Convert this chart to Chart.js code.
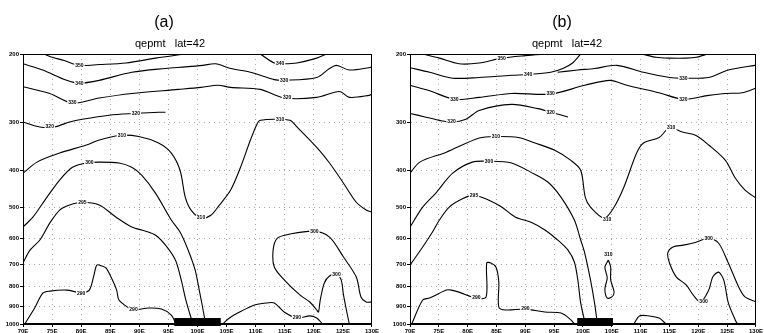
<!DOCTYPE html>
<html><head><meta charset="utf-8">
<script src="https://cdn.jsdelivr.net/npm/chart.js@4.4.1/dist/chart.umd.min.js"></script>
<style>
html,body{margin:0;padding:0;background:#fff;width:764px;height:333px;overflow:hidden;}
#wrap{position:relative;width:764px;height:333px;}
canvas{position:absolute;top:0;}
.t1{position:absolute;font-family:"Liberation Sans",Arial,sans-serif;font-size:16px;color:#000;transform:translateX(-50%);white-space:pre;line-height:18px;}
.t2{position:absolute;font-family:"Liberation Sans",Arial,sans-serif;font-size:11px;color:#000;transform:translateX(-50%);white-space:pre;line-height:13px;}
</style></head><body>
<div id="wrap">
<canvas id="ca" width="380" height="333" style="left:0"></canvas>
<canvas id="cb" width="384" height="333" style="left:380px"></canvas>
<div class="t1" style="left:164px;top:13px">(a)</div>
<div class="t2" style="left:170px;top:37px">qepmt   lat=42</div>
<div class="t1" style="left:562px;top:13px">(b)</div>
<div class="t2" style="left:567px;top:37px">qepmt   lat=42</div>
</div>
<script>
// ---- axes ----
const xTicks = [70,75,80,85,90,95,100,105,110,115,120,125,130];
const yTicks = [200,300,400,500,600,700,800,900,1000];

// ---- panel (a) contours: [longitude (E), pressure (hPa)] ----
const a350 = [[73.6,200],[74.6,203],[77.1,208],[79.7,214],[83.1,213],[87.7,211],[92.8,205],[97.9,200]];
const a340 = [[110.8,200],[113.2,211],[114.9,212],[117.1,211],[120.5,205],[122.2,200]];
const aL2 = [[70,212],[73.4,220],[77.5,234],[79.7,238],[83.1,234],[88.7,223],[94.5,218],[97.9,216],[100.9,214],[103.1,212],[105.7,218],[109.1,223],[113.2,233],[114.9,234],[120.5,230],[122.7,218],[123.9,214],[126.1,220],[129.5,217],[130,216]];
const aL3 = [[70,243],[74.6,253],[78.5,268],[83.1,260],[88.7,253],[96.7,247],[100.6,244],[103.5,241],[105.7,244],[110.8,247],[114.9,260],[120.5,259],[124.4,250],[126.1,259],[129.5,256],[130,254]];
const a320 = [[70,300],[72.9,309],[75.4,309],[78,300],[80.2,295],[84.8,288],[89.4,285],[93.3,283],[94.5,283]];
const a310 = [[70,407],[72.4,381],[76.3,361],[80.9,344],[83.1,334],[86.5,325],[89.9,327],[93.3,340],[95.5,361],[97,400],[97.9,470],[98.9,507],[100.6,532],[102.3,523],[103.5,498],[105.7,450],[107.4,393],[109.1,334],[110.3,302],[110.8,297],[113.2,295],[115.9,297],[117.1,309],[120.5,349],[122.7,383],[125.1,432],[127.3,484],[129,507],[130,513]];
const a300 = [[70,561],[71.7,529],[74.1,470],[76.3,424],[78.5,393],[80.9,383],[83.1,381],[86.5,383],[88.7,393],[90.4,412],[92.8,459],[95.5,538],[97,578],[98.4,644],[99.6,725],[100.3,817],[100.8,893],[101.4,1000]];
const a295 = [[70,695],[71.2,644],[72.9,606],[74.6,548],[76.3,507],[78,492],[80.2,484],[83.1,492],[86,529],[88.7,561],[91.1,575],[92.8,589],[94.5,625],[96.2,683],[97.2,769],[98,867],[99.2,1000]];
const a290 = [[70.3,1000],[72,909],[73.4,832],[74.6,822],[77.5,817],[79.2,827],[80,832],[81.4,817],[82.2,747],[82.7,704],[83.6,708],[84.3,717],[85.3,765],[86.1,817],[86.5,867],[88.2,909],[89,920],[91.6,909],[93.8,915],[95.5,948],[96.3,1000]];
const a300r = [[130,877],[129,877],[128.1,851],[127.3,756],[125.1,671],[122.7,596],[120.1,575],[115.9,585],[113.7,600],[113,644],[113.2,712],[114.9,769],[117.6,841],[119.3,877],[120.5,920],[120.8,931],[121.1,867],[121.8,783],[122.7,751],[123.9,743],[124.7,769],[125.1,841],[125.6,920],[126.1,1000]];
const a290r = [[104.3,1000],[105.5,965],[106.9,937],[109.8,893],[112,882],[113.2,882],[114.9,931],[117.1,965],[119.3,953],[120.5,965],[121.5,1000]];
const aLabels = [[79.7,214,'350'],[114.2,212,'340'],[79.7,238,'340'],[114.9,234,'330'],[78.5,268,'330'],[115.4,260,'320'],[74.6,309,'320'],[89.4,285,'320'],[87,325,'310'],[100.6,532,'310'],[114.2,295,'310'],[81.4,383,'300'],[80.2,484,'295'],[80,832,'290'],[89,920,'290'],[120.1,575,'300'],[123.9,743,'300'],[117.1,965,'290']];
const aTerrain = [96,104,965];

// ---- panel (b) contours ----
const b350 = [[72.2,200],[75.1,205],[78.5,212],[82,211],[85.9,205],[90,202],[93.9,200]];
const b340 = [[110.2,200],[112.7,204],[115,205],[117.9,205],[119.6,204],[121.6,200]];
const bL2a = [[70,217],[73.4,223],[77.4,231],[82,230],[87.6,227],[90.5,226],[94.4,223],[96.5,218],[98.2,211],[99.6,200]];
const bL2b = [[95.6,223],[99.1,220],[102,218],[105.9,214],[110.5,223],[115,230],[117.4,231],[121.8,230],[125.2,220],[129.8,214],[130,214]];
const bL3 = [[70,241],[73.4,249],[77.7,262],[82,259],[87.6,253],[94.4,254],[100.3,241],[104.7,234],[107.6,241],[113.2,252],[117.4,262],[121.8,256],[124.7,253],[127.6,252],[130,245]];
const b320 = [[70,285],[72.6,291],[75.1,297],[77.2,300],[79.7,295],[82,280],[87.6,270],[92.2,277],[94.4,283],[97.4,291]];
const b310 = [[70,407],[71.7,381],[76.3,359],[82,330],[84.9,327],[88.8,329],[91.7,340],[95.1,355],[97.9,377],[99.6,400],[100.4,470],[101.3,498],[103.7,532],[105.4,498],[107.1,442],[109.3,361],[110.5,340],[113.2,329],[115,311],[117.4,319],[119.6,325],[121.8,344],[124.7,377],[126.4,419],[128.1,450],[130,472]];
const b300 = [[70,561],[72.2,498],[74.6,456],[77.4,407],[80.8,381],[83.7,379],[87.6,383],[91,405],[93.9,429],[96.2,470],[98.5,538],[99.6,606],[100.3,655],[101.3,769],[102,882],[102.5,1000]];
const b295 = [[70,704],[72.2,632],[73.9,578],[75.1,538],[76.8,498],[79.1,474],[81.1,464],[83.7,478],[85.9,498],[88.3,529],[91,545],[93.4,571],[95.6,606],[97.4,644],[98.5,691],[99.1,769],[99.6,882],[100.4,1000]];
const b290 = [[70.3,1000],[72.2,867],[73.4,857],[76.3,817],[77.2,817],[78.5,827],[81.5,857],[83.2,851],[83.3,695],[84,695],[84.9,712],[85.4,779],[85.4,904],[86.6,920],[90,915],[93.4,931],[96.2,937],[97.9,976],[98.5,1000]];
const b310loop = [[104.4,683],[103.8,712],[104.2,760],[103.8,812],[104.2,857],[105,851],[105.4,827],[104.8,769],[104.8,712],[104.4,683]];
const b290bump = [[108.8,1000],[109.8,953],[111.5,953],[113.2,965],[114.4,1000]];
const b300r = [[130,877],[128.1,851],[127,802],[125.2,695],[123.5,617],[121.8,600],[119.6,614],[117.4,625],[115.6,632],[114.7,655],[115,695],[116.2,756],[117.9,792],[119.1,841],[120.4,877],[121.8,817],[122.5,756],[123.5,734],[124.4,769],[125.2,882],[126.4,976],[126.8,1000]];
const bLabels = [[85.9,205,'350'],[90.5,226,'340'],[117.4,231,'330'],[77.7,262,'330'],[94.4,254,'330'],[117.4,262,'320'],[77.2,300,'320'],[94.4,283,'320'],[84.9,327,'310'],[104.2,538,'310'],[115.3,311,'310'],[83.7,379,'300'],[81.1,464,'295'],[81.5,857,'290'],[90,915,'290'],[104.4,663,'310'],[121.8,600,'300'],[120.9,877,'300']];
const bTerrain = [99,105.2,965];

const contoursA = [a350,a340,aL2,aL3,a320,a310,a300,a295,a290,a300r,a290r];
const contoursB = [b350,b340,bL2a,bL2b,bL3,b320,b310,b300,b295,b290,b310loop,b290bump,b300r];

const extras = {
  id:'extras',
  afterDatasetsDraw(chart, args, o){
    const {ctx, chartArea:ca, scales:{x,y}} = chart;
    ctx.save();
    const x0 = x.getPixelForValue(o.terrain[0]), x1 = x.getPixelForValue(o.terrain[1]);
    const yt = y.getPixelForValue(o.terrain[2]);
    ctx.fillStyle = '#000';
    ctx.fillRect(x0, yt, x1-x0, ca.bottom + 2 - yt);
    ctx.font = 'bold 5px "Liberation Sans", Arial, sans-serif';
    ctx.textAlign = 'center'; ctx.textBaseline = 'middle';
    for (const l of o.labels){
      const px = x.getPixelForValue(l[0]), py = y.getPixelForValue(l[1]);
      const w = ctx.measureText(l[2]).width + 2;
      ctx.fillStyle = '#fff'; ctx.fillRect(px - w/2, py - 3, w, 6);
      ctx.fillStyle = '#000'; ctx.fillText(l[2], px, py);
    }
    ctx.strokeStyle = '#000'; ctx.lineWidth = 1;
    ctx.strokeRect(Math.round(ca.left)+0.5, Math.round(ca.top)+0.5, Math.round(ca.width)-1, Math.round(ca.height)-1);
    ctx.restore();
  }
};

function makeChart(id, contours, labels, terrain, yw, rp){
  const tickFont = {size:6, weight:'bold', family:'"Liberation Sans", Arial, sans-serif'};
  return new Chart(document.getElementById(id), {
    type:'line',
    data:{datasets: contours.map(c => ({
      data: c.map(p => ({x:p[0], y:p[1]})),
      borderColor:'#000', borderWidth:1.1, pointRadius:0, tension:0.3, fill:false
    }))},
    options:{
      responsive:false, animation:false, events:[],
      layout:{padding:{top:54, right:rp, left:0, bottom:0}},
      plugins:{legend:{display:false}, tooltip:{enabled:false}, extras:{labels, terrain}},
      scales:{
        x:{type:'linear', min:70, max:130,
          afterBuildTicks:s => { s.ticks = xTicks.map(v => ({value:v})); },
          afterFit:s => { s.height = 9; },
          ticks:{callback:v => v + 'E', font:tickFont, color:'#000', padding:1, maxRotation:0, autoSkip:false},
          grid:{color:'#a8a8a8', lineWidth:1, drawTicks:true, tickLength:3, tickColor:'#000'},
          border:{display:true, color:'#000', width:1, dash:[1,4]}},
        y:{type:'logarithmic', min:200, max:1000, reverse:true,
          afterBuildTicks:s => { s.ticks = yTicks.map(v => ({value:v})); },
          afterFit:s => { s.width = yw; },
          ticks:{callback:v => String(v), font:tickFont, color:'#000', padding:1, autoSkip:false},
          grid:{color:'#a8a8a8', lineWidth:1, drawTicks:true, tickLength:3, tickColor:'#000'},
          border:{display:true, color:'#000', width:1, dash:[1,4]}}
      }
    },
    plugins:[extras]
  });
}
makeChart('ca', contoursA, aLabels, aTerrain, 23, 4);
makeChart('cb', contoursB, bLabels, bTerrain, 30, 3);
</script>
</body></html>
